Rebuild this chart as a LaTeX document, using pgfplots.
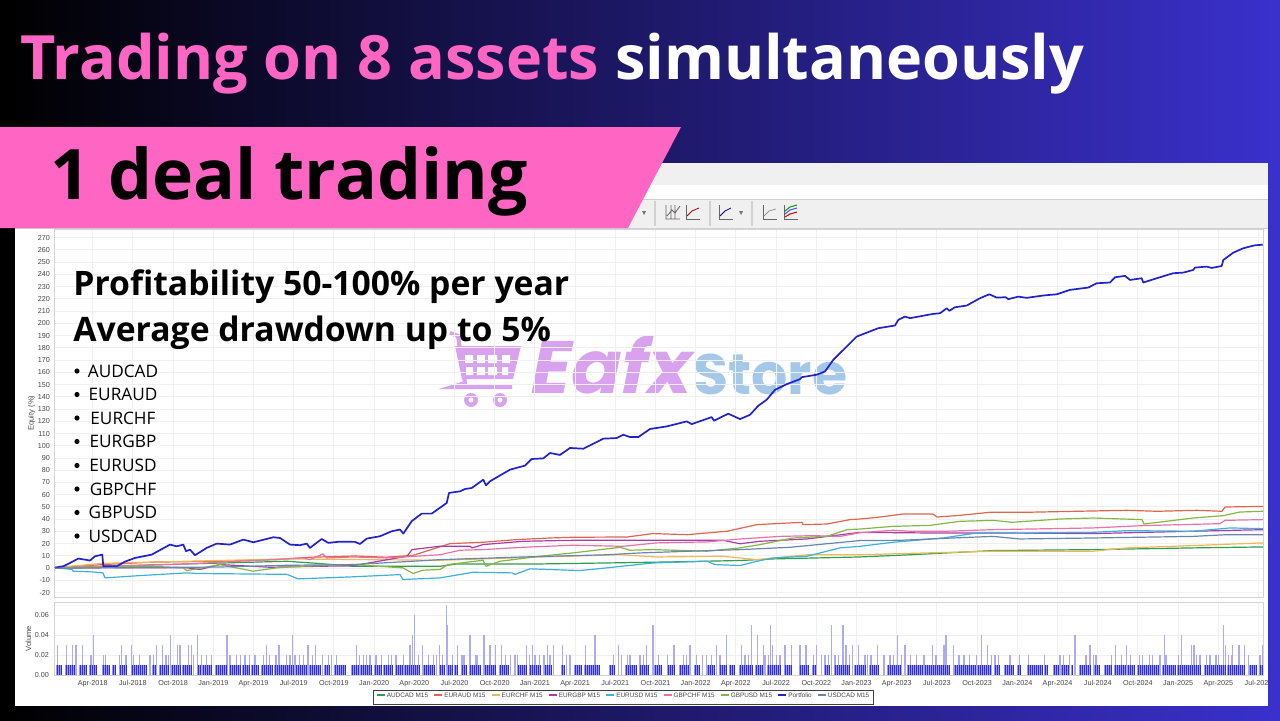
\documentclass[border=0pt]{standalone}
\usepackage{fontspec}
\usepackage{pgfplots}
\usepackage{pgfplotstable}
\pgfplotsset{compat=1.18}
\setmainfont{Open Sans}
\newfontfamily\chartfont{Liberation Sans}
\newfontfamily\wmfont[FakeSlant=0.2]{Poppins}
\newfontfamily\wmplain{Poppins}
\definecolor{bgR}{HTML}{3A30CC}
\definecolor{bgM}{HTML}{1B1B78}
\definecolor{pinkB}{HTML}{FF66C4}
\definecolor{gridc}{HTML}{F0F0F0}
\definecolor{framec}{HTML}{D4D4D4}
\definecolor{tickc}{HTML}{484848}
\definecolor{cAUDCAD}{HTML}{2E9E4F}
\definecolor{cEURAUD}{HTML}{E0654F}
\definecolor{cEURCHF}{HTML}{F0B858}
\definecolor{cEURGBP}{HTML}{A83CA8}
\definecolor{cEURUSD}{HTML}{3FB0D8}
\definecolor{cGBPCHF}{HTML}{E872A8}
\definecolor{cGBPUSD}{HTML}{86B648}
\definecolor{cPort}{HTML}{2222CC}
\definecolor{cUSDCAD}{HTML}{6A86AE}
\definecolor{wmE}{HTML}{D8A2EE}
\definecolor{wmS}{HTML}{A6C8E8}
\definecolor{volL}{HTML}{ACACF5}
\definecolor{volM}{HTML}{9A9AF2}
\definecolor{volB}{HTML}{2E2EDC}
% volume floor: bars at 0.01, x in source picture pixels
\pgfplotstableread[row sep=\\,header=false]{
57 .01\\59 .01\\61 .01\\66 .01\\68 .01\\70 .01\\72 .01\\74 .01\\80 .01\\82 .01\\84 .01\\86 .01\\90 .01\\92 .01\\94 .01\\96 .01\\103 .01\\105 .01\\107 .01\\109 .01\\113 .01\\115 .01\\120 .01\\122 .01\\124 .01\\126 .01\\132 .01\\134 .01\\136 .01\\138 .01\\140 .01\\142 .01\\144 .01\\146 .01\\153 .01\\155 .01\\160 .01\\162 .01\\164 .01\\166 .01\\168 .01\\172 .01\\174 .01\\176 .01\\178 .01\\180 .01\\183 .01\\185 .01\\187 .01\\189 .01\\191 .01\\198 .01\\200 .01\\203 .01\\205 .01\\207 .01\\209 .01\\211 .01\\216 .01\\218 .01\\220 .01\\222 .01\\224 .01\\226 .01\\230 .01\\232 .01\\234 .01\\236 .01\\238 .01\\240 .01\\243 .01\\245 .01\\247 .01\\249 .01\\252 .01\\254 .01\\256 .01\\258 .01\\262 .01\\264 .01\\266 .01\\268 .01\\270 .01\\272 .01\\275 .01\\277 .01\\279 .01\\281 .01\\283 .01\\285 .01\\287 .01\\289 .01\\291 .01\\293 .01\\296 .01\\298 .01\\300 .01\\302 .01\\304 .01\\306 .01\\310 .01\\312 .01\\314 .01\\316 .01\\318 .01\\320 .01\\325 .01\\327 .01\\329 .01\\335 .01\\337 .01\\339 .01\\341 .01\\343 .01\\345 .01\\352 .01\\354 .01\\356 .01\\358 .01\\361 .01\\363 .01\\365 .01\\367 .01\\369 .01\\371 .01\\375 .01\\377 .01\\379 .01\\381 .01\\384 .01\\386 .01\\388 .01\\390 .01\\392 .01\\396 .01\\398 .01\\400 .01\\402 .01\\405 .01\\407 .01\\409 .01\\411 .01\\413 .01\\415 .01\\417 .01\\419 .01\\424 .01\\426 .01\\428 .01\\430 .01\\432 .01\\434 .01\\
440 .01\\442 .01\\444 .01\\448 .01\\450 .01\\452 .01\\455 .01\\457 .01\\462 .01\\464 .01\\466 .01\\470 .01\\472 .01\\474 .01\\476 .01\\478 .01\\480 .01\\485 .01\\487 .01\\489 .01\\491 .01\\493 .01\\495 .01\\500 .01\\502 .01\\504 .01\\506 .01\\508 .01\\518 .01\\520 .01\\522 .01\\524 .01\\526 .01\\530 .01\\532 .01\\534 .01\\536 .01\\538 .01\\540 .01\\545 .01\\547 .01\\549 .01\\551 .01\\562 .01\\564 .01\\575 .01\\577 .01\\579 .01\\581 .01\\585 .01\\587 .01\\589 .01\\591 .01\\593 .01\\595 .01\\597 .01\\599 .01\\610 .01\\612 .01\\614 .01\\626 .01\\628 .01\\630 .01\\632 .01\\634 .01\\636 .01\\640 .01\\642 .01\\644 .01\\646 .01\\648 .01\\655 .01\\657 .01\\659 .01\\661 .01\\668 .01\\670 .01\\672 .01\\674 .01\\680 .01\\682 .01\\684 .01\\686 .01\\688 .01\\695 .01\\697 .01\\699 .01\\708 .01\\710 .01\\712 .01\\714 .01\\720 .01\\722 .01\\724 .01\\726 .01\\730 .01\\732 .01\\734 .01\\740 .01\\742 .01\\744 .01\\746 .01\\748 .01\\750 .01\\752 .01\\756 .01\\758 .01\\760 .01\\762 .01\\768 .01\\770 .01\\772 .01\\774 .01\\776 .01\\778 .01\\780 .01\\785 .01\\787 .01\\789 .01\\791 .01\\800 .01\\802 .01\\804 .01\\806 .01\\808 .01\\813 .01\\815 .01\\825 .01\\827 .01\\829 .01\\835 .01\\837 .01\\839 .01\\841 .01\\843 .01\\845 .01\\847 .01\\849 .01\\855 .01\\857 .01\\859 .01\\
861 .01\\863 .01\\865 .01\\870 .01\\872 .01\\874 .01\\876 .01\\878 .01\\888 .01\\890 .01\\892 .01\\894 .01\\896 .01\\898 .01\\900 .01\\908 .01\\910 .01\\912 .01\\914 .01\\916 .01\\918 .01\\920 .01\\922 .01\\925 .01\\927 .01\\929 .01\\931 .01\\933 .01\\935 .01\\937 .01\\939 .01\\941 .01\\943 .01\\945 .01\\947 .01\\949 .01\\955 .01\\957 .01\\959 .01\\961 .01\\963 .01\\965 .01\\967 .01\\969 .01\\971 .01\\973 .01\\975 .01\\978 .01\\980 .01\\982 .01\\984 .01\\986 .01\\988 .01\\990 .01\\995 .01\\997 .01\\999 .01\\1005 .01\\1007 .01\\1009 .01\\1011 .01\\1013 .01\\1018 .01\\1020 .01\\1028 .01\\1030 .01\\1032 .01\\1034 .01\\1036 .01\\1038 .01\\1040 .01\\1042 .01\\1045 .01\\1047 .01\\1054 .01\\1056 .01\\1058 .01\\1062 .01\\1064 .01\\1066 .01\\1068 .01\\1072 .01\\1080 .01\\1082 .01\\1084 .01\\1086 .01\\1088 .01\\1090 .01\\1095 .01\\1097 .01\\1099 .01\\1105 .01\\1107 .01\\1109 .01\\1111 .01\\1115 .01\\1117 .01\\1119 .01\\1121 .01\\1123 .01\\1125 .01\\1128 .01\\1130 .01\\1132 .01\\1134 .01\\1138 .01\\1140 .01\\1142 .01\\1144 .01\\1146 .01\\1148 .01\\1150 .01\\1152 .01\\1154 .01\\1156 .01\\1158 .01\\1163 .01\\1165 .01\\1167 .01\\1169 .01\\1171 .01\\1173 .01\\1175 .01\\1178 .01\\1180 .01\\1182 .01\\1184 .01\\1186 .01\\1188 .01\\1190 .01\\1192 .01\\1194 .01\\1196 .01\\1198 .01\\1200 .01\\1205 .01\\1207 .01\\1209 .01\\1211 .01\\1213 .01\\1215 .01\\1217 .01\\1219 .01\\1221 .01\\1223 .01\\1225 .01\\1228 .01\\1230 .01\\1232 .01\\1234 .01\\1236 .01\\1238 .01\\1240 .01\\1242 .01\\1244 .01\\1250 .01\\1252 .01\\1254 .01\\1256 .01\\1260 .01\\1262 .01\\
}\volfloor
% x values of both axes are source picture pixels
\pgfplotsset{
  chartbase/.style={
    scale only axis, width=604.5pt,
    xmin=54, xmax=1263,
    axis line style={framec,line width=.5pt},
    grid=major, grid style={gridc,line width=.5pt},
    major tick length=0pt,
    tick label style={font=\chartfont\fontsize{3.6}{4}\selectfont,text=tickc},
    label style={font=\chartfont\fontsize{3.8}{4}\selectfont,text=tickc},
    /pgf/number format/assume math mode=true,
    xtick={92.7,132.9,173.1,213.3,253.5,293.7,333.9,374.1,414.3,454.5,494.7,534.9,575.1,615.3,655.5,695.7,735.9,776.1,816.3,856.5,896.7,936.9,977.1,1017.3,1057.5,1097.7,1137.9,1178.1,1218.3,1258.5},
  },
  line/.style={forget plot,draw=#1,line width=.6pt,line join=round,no marks},
  lg/.style={legend image code/.code={\draw[draw=#1,line width=.6pt] (0pt,1.1pt) -- (4pt,1.1pt);}},
}
\begin{document}
\begin{tikzpicture}
\useasboundingbox (0,0) rectangle (640pt,360pt);
\shade[left color=black,middle color=bgM,right color=bgR] (0,0) rectangle (640pt,360pt);
\begin{scope}[x=.5pt,y=-.5pt,yshift=360pt]
  % application window
  \fill[black] (0,0) rectangle (15,720);
  \fill[white] (15,163) rectangle (1268,706);
  \fill[black!6] (15,163) rectangle (1268,185);
  \fill[black!6] (15,199) rectangle (1268,228);
  \draw[black!18,line width=.5pt] (15,199) -- (1268,199) (15,228) -- (1268,228);
  \draw[black!18,line width=.8pt] (655,201) -- (655,226) (710,201) -- (710,226) (752,201) -- (752,226);
  \fill[black!55] (642,211) -- (646,211) -- (644,215) -- cycle;
  \fill[black!55] (739,211) -- (743,211) -- (741,215) -- cycle;
  \draw[black!60,line width=.4pt] (666,205) -- (666,219) -- (680,219) (671,205) -- (671,219) (675,205) -- (675,219) (667,216) -- (672,210) -- (675,213) -- (680,206);
  \draw[black!60,line width=.4pt] (686,205) -- (686,219) -- (700,219);
  \draw[red!70!black,line width=.4pt] (687,216) -- (692,211) -- (699,208);
  \draw[black!60,line width=.4pt] (719,205) -- (719,219) -- (733,219);
  \draw[blue!60!black,line width=.4pt] (720,216) -- (725,211) -- (731,208);
  \draw[black!60,line width=.4pt] (763,205) -- (763,219) -- (777,219);
  \draw[black!40,line width=.4pt] (764,216) -- (769,211) -- (776,209);
  \draw[black!60,line width=.4pt] (784,205) -- (784,219) -- (798,219);
  \draw[green!60!black,line width=.5pt] (785,211) -- (790,207) -- (797,205);
  \draw[blue!70,line width=.5pt] (785,214) -- (790,210) -- (797,208);
  \draw[red!80!black,line width=.5pt] (785,217) -- (790,214) -- (797,212);
  % watermark
  \draw[wmE,line width=2pt] (450,333) -- (458,336) -- (465,383) -- (452,387) -- (512,387);
  \fill[wmE] (455,346) -- (521,346) -- (513,379) -- (462,379) -- cycle;
  \fill[white] (465,355) rectangle (473,363) (477,355) rectangle (485,363) (488,355) rectangle (497,363) (502,355) rectangle (510,363)
               (466,367) rectangle (473,375) (477,367) rectangle (485,375) (488,367) rectangle (497,375) (502,367) rectangle (508,375);
  \fill[wmE] (471,400) circle (7) (500,400) circle (7);
  \fill[white] (471,400) circle (2.5) (500,400) circle (2.5);
  \node[anchor=base west,inner sep=0pt,text=wmE] at (527,393) {\wmfont\bfseries\fontsize{37}{37}\selectfont Eafx};
  \node[anchor=base west,inner sep=0pt,text=wmS] at (693,394) {\wmplain\bfseries\fontsize{28.5}{28.5}\selectfont Store};
\end{scope}
\begin{scope}
\clip (15*.5pt,0) rectangle (1268*.5pt,360pt);
\begin{axis}[chartbase,
  at={(27pt,61.5pt)},anchor=south west,height=184pt,
  ymin=-23.5,ymax=277,
  ytick distance=10,
  xticklabels={},
  yticklabel shift=-1.5pt,
  ylabel={Equity (\%)},ylabel shift=-5.5pt,
  legend columns=9,
  legend style={at={(0.471,-0.272)},anchor=center,draw=black!75,line width=.4pt,
    font=\chartfont\fontsize{3.2}{3.6}\selectfont,text=tickc,
    inner xsep=1.5pt,inner ysep=.8pt,
    nodes={inner sep=.8pt},
    /tikz/every even column/.append style={column sep=1.9pt}},
]
\addplot[line=cAUDCAD] coordinates {(55,0)(103,1.5)(187,3.5)(287,5.7)(320,3.8)(353,1.6)(440,1.6)(457,3.5)(540,3.5)(607,4.3)(673,5.2)(740,6.3)(773,7.6)(860,9.2)(910,11)(993,14.4)(1093,15.2)(1193,16.6)(1263,17.4)};
\addplot[line=cEURAUD] coordinates {(55,.5)(103,3)(153,5)(220,5.7)(277,7)(310,9)(333,9.5)(355,10)(386,9)(413,10.5)(440,17.5)(450,20.1)(483,21.2)(517,23.4)(550,24.7)(573,25.3)(627,25.5)(653,28.3)(687,27.4)(727,30.2)(757,35.6)(802,37.5)(803,35.6)(827,36.1)(850,39.7)(860,40.2)(880,41.8)(903,44.3)(933,44.3)(937,41.8)(960,43.2)(990,45.7)(1027,45.7)(1127,47.3)(1157,46.5)(1197,47.3)(1222,46.5)(1225,50)(1263,50.5)};
\addplot[line=cEURCHF] coordinates {(55,.5)(103,4)(187,5.7)(287,7.6)(440,6.5)(483,7.6)(540,9.2)(620,11)(657,9.2)(723,9.8)(757,7)(807,11)(860,11)(927,12.5)(993,13.9)(1093,13.9)(1127,16.6)(1193,18.5)(1263,20.7)};
\addplot[line=cEURGBP] coordinates {(55,0)(103,.5)(187,.3)(200,-1)(220,3)(270,.8)(320,1.6)(353,2)(407,9.8)(412,15.2)(440,18)(470,18)(472,16.6)(483,19.3)(523,22)(573,22.8)(627,22.8)(683,22.8)(723,22.8)(740,20)(760,22)(807,23.9)(860,29.3)(927,28.8)(993,28.8)(1093,28.3)(1193,30.2)(1263,31.5)};
\addplot[line=cEURUSD] coordinates {(55,.5)(72,-1)(73,-2.4)(92,-3)(103,-3.8)(105,-7.9)(140,-6)(187,-3.8)(197,-4.3)(287,-5)(298,-8.7)(353,-7)(400,-5.2)(403,-9.2)(440,-7.9)(473,-3.3)(512,-3.8)(515,-5)(530,-.5)(580,-1.9)(607,.3)(653,4.3)(707,5.7)(715,3)(740,2.2)(757,5.7)(773,8.4)(807,9.8)(840,16.6)(860,17.9)(893,21.2)(943,24.7)(977,28.8)(1027,28.8)(1093,29.3)(1127,30.7)(1193,30.2)(1230,32.9)(1263,32.3)};
\addplot[line=cGBPCHF] coordinates {(55,.5)(187,3.5)(303,8.4)(310,7)(323,11.7)(327,8.4)(353,9.2)(387,8.4)(440,11)(460,14.7)(483,15.2)(523,17.1)(573,18.8)(623,17.9)(657,20.7)(707,21.5)(740,23.9)(780,26)(813,26.6)(840,26)(860,29)(893,31)(910,30.2)(947,30.2)(993,31.5)(1093,32.9)(1143,34.8)(1220,36.4)(1225,39.1)(1263,39.7)};
\addplot[line=cGBPUSD] coordinates {(55,.3)(153,1.6)(183,.3)(187,-1.9)(220,3)(253,-2.4)(277,.3)(300,1.6)(353,3)(403,.3)(413,-4.3)(423,-1.6)(440,-1)(448,3)(483,6.5)(486,1.6)(500,5.7)(540,9.8)(573,12.5)(620,17.1)(630,14.7)(653,15.2)(707,13.9)(740,16.6)(760,19.3)(793,24.7)(827,26.1)(847,31.5)(860,32)(893,34.2)(930,35)(960,38.3)(993,39.1)(1012,37.5)(1060,40.2)(1093,41)(1142,39.7)(1144,36.1)(1153,37)(1193,41)(1223,42.9)(1240,45.9)(1263,46.5)};
\addplot[line=cPort,line width=.85pt] coordinates {(55,.5)(63.3,1.6)(70,4.3)(78.3,7.9)(90,6.3)(95,9.8)(102.3,11.1)(103.3,1.6)(116.7,1.6)(125,5.4)(135,8.4)(151.7,11.1)(170,19.3)(176.7,17.9)(183.3,19.3)(186,13.9)(190,15.2)(195,10.6)(206.7,16.6)(216.7,20.1)(230,19.3)(243.3,23.4)(253.3,21.2)(273.3,25.3)(280,24.7)(290,19.3)(300,18.8)(306.7,20.1)(310,16.6)(321.7,23.9)(328.3,20.7)(340,21.7)(355,21.5)(360,19.8)(366.7,24.2)(380,26.1)(391.7,30.2)(400,31.6)(403.3,28.3)(411.7,38.4)(421.7,44.6)(431.7,44.6)(446.7,53.3)(449,61.5)(460,62.8)(465,64.7)(471.7,65.5)(483.3,72.3)(486,67.7)(490,71)(510,80.5)(525,83.8)(531.7,89.2)(543.3,89.7)(550,94.1)(560,92.5)(570,98.2)(583.3,97.6)(603.3,105.8)(616.7,106.3)(623.3,109)(630,107.1)(638.3,107.1)(650,113.7)(666.7,115.8)(686.7,119.9)(691.7,117.7)(711.7,123.4)(714,120.5)(728.3,126.2)(740,121.8)(750,125.3)(758.3,132.7)(766.7,137.6)(775,145.7)(786.7,150.3)(800,154.4)(801.7,156)(816.7,158)(825,160.7)(833.3,170.2)(842.7,177.8)(856.7,189.2)(878.3,196)(895,198.2)(898.3,202.8)(905,205.5)(910,204.2)(933.3,207.7)(940,208.2)(946.7,212.3)(949.3,210.2)(955,213.1)(966.7,214.5)(980,220.5)(989.3,223.7)(996.7,221)(1005.7,221.3)(1008.3,219.7)(1018.3,221.8)(1026.7,220.8)(1043.3,222.7)(1056.7,223.7)(1070,227.3)(1088.3,229.2)(1096.7,232.7)(1110,233.3)(1115,237.6)(1125,238.7)(1130,235.4)(1141.7,236.8)(1143.3,233.3)(1156.7,236.8)(1173.3,240.9)(1183.3,241.4)(1193.3,243.6)(1195,245.5)(1206.7,246.3)(1211.7,245.2)(1221.7,246.8)(1223.3,251.7)(1233.3,257.7)(1243.3,261.3)(1255,263.7)(1262.7,264.2)};
\addplot[line=cUSDCAD] coordinates {(55,0)(220,1)(287,2.4)(353,3)(413,5.7)(440,7)(523,9.2)(607,11)(640,12.5)(690,13.9)(740,15.2)(790,17.1)(860,22.6)(900,22.8)(953,24.7)(993,26)(1020,23.9)(1093,24.7)(1193,26)(1227,27.4)(1263,27.4)};
\addlegendimage{lg=cAUDCAD}\addlegendentry{AUDCAD M15}
\addlegendimage{lg=cEURAUD}\addlegendentry{EURAUD M15}
\addlegendimage{lg=cEURCHF}\addlegendentry{EURCHF M15}
\addlegendimage{lg=cEURGBP}\addlegendentry{EURGBP M15}
\addlegendimage{lg=cEURUSD}\addlegendentry{EURUSD M15}
\addlegendimage{lg=cGBPCHF}\addlegendentry{GBPCHF M15}
\addlegendimage{lg=cGBPUSD}\addlegendentry{GBPUSD M15}
\addlegendimage{lg=cPort}\addlegendentry{Portfolio}
\addlegendimage{lg=cUSDCAD}\addlegendentry{USDCAD M15}
\end{axis}
\begin{axis}[chartbase,
  at={(27pt,22.5pt)},anchor=south west,height=36.5pt,
  ymin=0,ymax=.073,
  ytick={0,.02,.04,.06},
  yticklabel style={/pgf/number format/fixed,/pgf/number format/fixed zerofill,/pgf/number format/precision=2},
  scaled y ticks=false,
  yticklabel shift=-1pt,
  xticklabels={Apr-2018,Jul-2018,Oct-2018,Jan-2019,Apr-2019,Jul-2019,Oct-2019,Jan-2020,Apr-2020,Jul-2020,Oct-2020,Jan-2021,Apr-2021,Jul-2021,Oct-2021,Jan-2022,Apr-2022,Jul-2022,Oct-2022,Jan-2023,Apr-2023,Jul-2023,Oct-2023,Jan-2024,Apr-2024,Jul-2024,Oct-2024,Jan-2025,Apr-2025,Jul-2025},
  ylabel={Volume},ylabel shift=-5pt,
  xticklabel shift=-1pt,
]
% volume: taller bars
\addplot[ycomb,no marks,volL,line width=.75pt] coordinates {
(446.7,.07)(414.7,.06)(447.7,.05)(653,.05)(751.7,.05)(770.7,.05)(831.7,.05)(843,.05)(1223.3,.05)
(93.7,.04)(170.7,.04)(197.3,.04)(227,.04)(292.3,.04)(412.3,.04)(470,.04)(484,.04)(595,.04)(726.7,.04)(757.3,.04)(897.7,.04)(946,.04)(981.3,.04)(1075,.04)(1164.3,.04)(1181.7,.04)
(57.7,.03)(66.7,.03)(72.7,.03)(76,.03)(82.7,.03)(121.7,.03)(131.7,.03)(156.3,.03)(162.3,.03)(177.3,.03)(180,.03)(188.3,.03)(191.3,.03)(266.7,.03)(279,.03)(308,.03)(315.7,.03)(356.3,.03)(410,.03)(422.3,.03)(439.3,.03)
(457.7,.03)(490,.03)(495.7,.03)(501.7,.03)(526.7,.03)(532.3,.03)(547.3,.03)(553.3,.03)(562.7,.03)(585.7,.03)(618.3,.03)(646.7,.03)(674,.03)(690,.03)(716.7,.03)(741.7,.03)(763.3,.03)(772.3,.03)(785,.03)(791.7,.03)(800,.03)(806,.03)(816.7,.03)(846,.03)(852.3,.03)(858.3,.03)
(877.3,.03)(905,.03)(932.7,.03)(944,.03)(953.3,.03)(987.7,.03)(1090,.03)(1115.7,.03)(1126.7,.03)(1191.7,.03)(1194,.03)(1225.7,.03)(1232.3,.03)(1239,.03)(1244.3,.03)(1262.7,.03)
(91,.02)(103.7,.02)(105.7,.02)(119.3,.02)(126,.02)(133.3,.02)(139.3,.02)(150,.02)(153.3,.02)(166,.02)(168.3,.02)(193.3,.02)(201.7,.02)(206.7,.02)(211.7,.02)(230,.02)(236.7,.02)(240.7,.02)(245,.02)(249.3,.02)(255,.02)(263.3,.02)(269.3,.02)(276,.02)(286.7,.02)(290,.02)(295,.02)(299.3,.02)(303.3,.02)(312.7,.02)(322.7,.02)(328.3,.02)(331.7,.02)(336.7,.02)(359.3,.02)(363.3,.02)(366.7,.02)(370,.02)(376,.02)(381.7,.02)(388.3,.02)(391.7,.02)(396,.02)(403.3,.02)(418.3,.02)(428.3,.02)(433.3,.02)(436.7,.02)
(442.7,.02)(452.3,.02)(462,.02)(464,.02)(476,.02)(477.3,.02)(505.7,.02)(510.7,.02)(515,.02)(517.3,.02)(529.3,.02)(535,.02)(539.3,.02)(544,.02)(550,.02)(566.7,.02)(570,.02)(613.3,.02)(621.7,.02)(627.3,.02)(630,.02)(640,.02)(643.3,.02)(658.3,.02)(667.7,.02)(683.3,.02)(686.7,.02)(696.7,.02)(702.3,.02)(706.7,.02)(711.7,.02)(720,.02)(745,.02)(748.3,.02)(765,.02)(768.3,.02)(776.7,.02)(780,.02)(813.3,.02)(821.7,.02)(825,.02)(828.3,.02)(835,.02)(838.3,.02)(849.3,.02)
(865,.02)(867.3,.02)(871,.02)(884,.02)(890,.02)(893.3,.02)(901.7,.02)(910.7,.02)(916.7,.02)(924,.02)(936,.02)(959,.02)(964,.02)(969.3,.02)(976.7,.02)(991.7,.02)(995,.02)(998.3,.02)(1010,.02)(1019.3,.02)(1028.3,.02)(1044.3,.02)(1060,.02)(1063.3,.02)(1069.3,.02)(1086,.02)(1093.3,.02)(1096,.02)(1111.7,.02)(1121.7,.02)(1130.7,.02)(1139.3,.02)(1142.7,.02)(1149.3,.02)(1152.7,.02)(1160,.02)(1166,.02)(1178.3,.02)(1196.7,.02)(1200,.02)(1206.7,.02)(1210,.02)(1216,.02)(1218.3,.02)(1228.3,.02)(1231.7,.02)(1248.3,.02)(1260,.02)
};
% the 0.01 floor: pale body, darker core where deals overlap
\addplot[ycomb,no marks,volM,line width=1pt] table {\volfloor};
\addplot[ycomb,no marks,volB,line width=.35pt] table {\volfloor};
\end{axis}
\end{scope}
\begin{scope}[x=.5pt,y=-.5pt,yshift=360pt]
  % banner and headings over the chart
  \fill[pinkB] (0,127) -- (681,127) -- (628,228) -- (0,228) -- cycle;
  \node[anchor=base west,inner sep=0pt] at (20,79) {\bfseries\fontsize{30.55}{32}\selectfont\textcolor{pinkB}{Trading on 8 assets} \textcolor{white}{simultaneously}};
  \node[anchor=base west,inner sep=0pt,text=black] at (50,199) {\bfseries\fontsize{34.8}{35}\selectfont 1 deal trading};
  \node[anchor=base west,inner sep=0pt,text=black] at (73,295) {\bfseries\fontsize{16.85}{17}\selectfont Profitability 50-100\% per year};
  \node[anchor=base west,inner sep=0pt,text=black] at (73,341) {\bfseries\fontsize{16.85}{17}\selectfont Average drawdown up to 5\%};
  \foreach \py/\name in {371/AUDCAD,394.5/EURAUD,418/EURCHF,441.5/EURGBP,465.5/EURUSD,489/GBPCHF,512.5/GBPUSD,536/USDCAD}{
    \fill[black] (77,\py) circle (2.6);
    \node[anchor=center,inner sep=0pt,text=black] at (123,\py) {\fontsize{8.6}{9}\selectfont \name};
  }
\end{scope}
\end{tikzpicture}
\end{document}
